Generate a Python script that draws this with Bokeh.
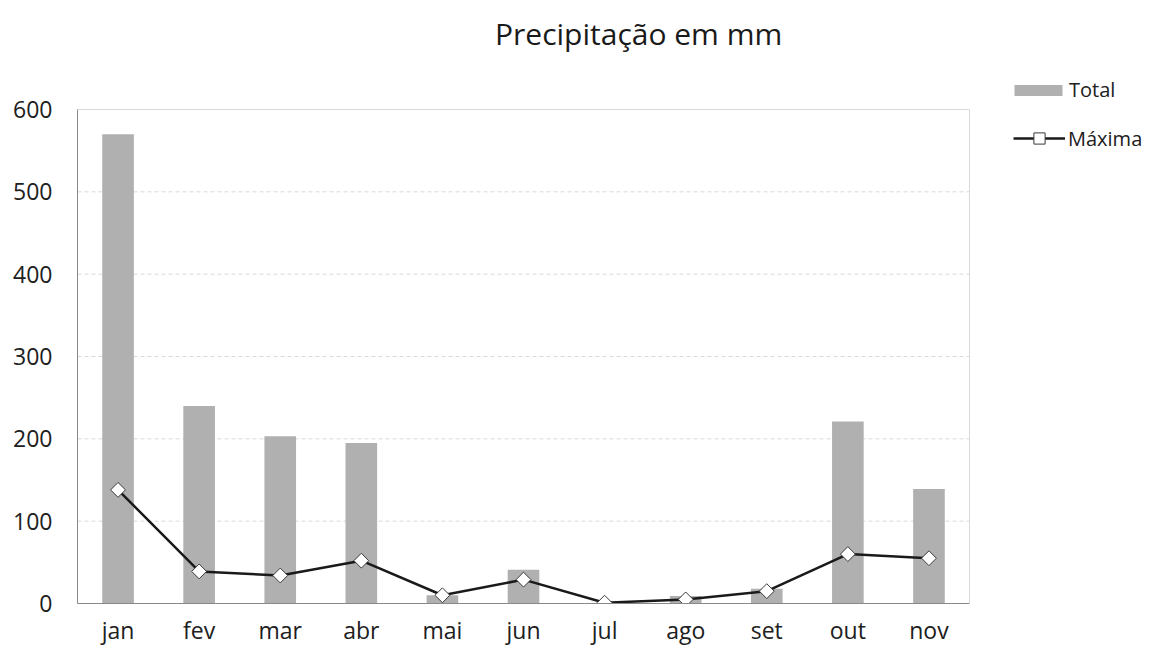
import numpy as np
from bokeh.plotting import figure
from bokeh.models import Range1d, FixedTicker, Label, Legend, LegendItem
from bokeh.embed import file_html
from bokeh.resources import INLINE

months = ["jan", "fev", "mar", "abr", "mai", "jun", "jul", "ago", "set", "out", "nov"]
total = [570, 240, 203, 195, 10, 41, 0, 9, 18, 221, 139]
maxima = [138, 39, 34, 52, 10, 29, 1, 5, 15, 60, 55]
y_ticks = [0, 100, 200, 300, 400, 500, 600]
title_text = "Precipitação  em mm"

FONT = "Open Sans"

# layout (pixels): plot box 77..969 wide, 109..603 tall in the page
W, H = 1150, 651
BOX_L, BOX_R, BOX_T, BOX_B = 77, 969, 109, 603
n = len(months)
x_pos = list(range(n))
band = (BOX_R - BOX_L) / n
x_lo = -0.5
x_hi_box = n - 0.5
x_end = x_lo + (W - BOX_L) / band
y_top = y_ticks[-1]
y_end = y_top * BOX_B / (BOX_B - BOX_T)

p = figure(width=W, height=H,
           x_range=Range1d(x_lo, x_end),
           y_range=Range1d(0, y_end),
           output_backend="svg", toolbar_location=None,
           min_border_left=BOX_L, min_border_right=0,
           min_border_top=0, min_border_bottom=H - BOX_B)

# grid lines and box outline
p.segment(x0=x_lo, x1=x_hi_box, y0=y_ticks[1:-1], y1=y_ticks[1:-1],
          line_color="#d9d9d9", line_dash="4 3", line_width=1)
p.segment(x0=[x_lo, x_hi_box], x1=[x_hi_box, x_hi_box], y0=[y_top, 0], y1=[y_top, y_top],
          line_color="#d9d9d9", line_width=1)

bars = p.vbar(x=x_pos, top=total, width=0.39, fill_color="#b0b0b0", line_color=None)
line_r = p.line(x=x_pos, y=maxima, line_color="#1a1a1a", line_width=2.5)
sc_r = p.scatter(x=x_pos, y=maxima, marker="square", angle=np.pi / 4, size=10.5,
                 fill_color="white", line_color="#3a3a3a", line_width=1)

p.xaxis.ticker = FixedTicker(ticks=x_pos)
p.xaxis.major_label_overrides = {i: m for i, m in zip(x_pos, months)}
p.yaxis.ticker = FixedTicker(ticks=y_ticks)
p.xaxis.bounds = (x_lo, x_hi_box)
p.yaxis.bounds = (0, y_top)
for ax in (p.xaxis, p.yaxis):
    ax.major_tick_line_color = None
    ax.minor_tick_line_color = None
    ax.major_tick_out = 0
    ax.major_tick_in = 0
    ax.axis_line_color = "#898989"
    ax.axis_line_width = 1
    ax.major_label_text_font = FONT
    ax.major_label_text_font_size = "23px"
    ax.major_label_text_color = "#202020"
p.yaxis.major_label_standoff = 25
p.xaxis.major_label_standoff = 10

p.xgrid.visible = False
p.ygrid.visible = False
p.outline_line_color = None
p.background_fill_color = "white"
p.border_fill_color = "white"

title = Label(x=642 - BOX_L, y=BOX_B - 33, x_units="screen", y_units="screen",
              text=title_text, text_align="center", text_baseline="middle",
              text_font=FONT, text_font_size="30px", text_color="#1a1a1a")
p.add_layout(title)

common = dict(orientation="vertical", label_text_font=FONT, label_text_font_size="20px",
              label_text_color="#202020", padding=0, margin=0, border_line_color=None,
              background_fill_alpha=0)
legend_total = Legend(items=[LegendItem(label="Total", renderers=[bars])],
                      location=(1008 - BOX_L, BOX_B - 103),
                      glyph_width=60, glyph_height=14, label_standoff=1, **common)
legend_max = Legend(items=[LegendItem(label="Máxima", renderers=[line_r, sc_r])],
                    location=(1013 - BOX_L, BOX_B - 152),
                    glyph_width=52, glyph_height=28, label_standoff=3, **common)
p.add_layout(legend_total)
p.add_layout(legend_max)

open("out.html", "w").write(file_html(p, INLINE))
